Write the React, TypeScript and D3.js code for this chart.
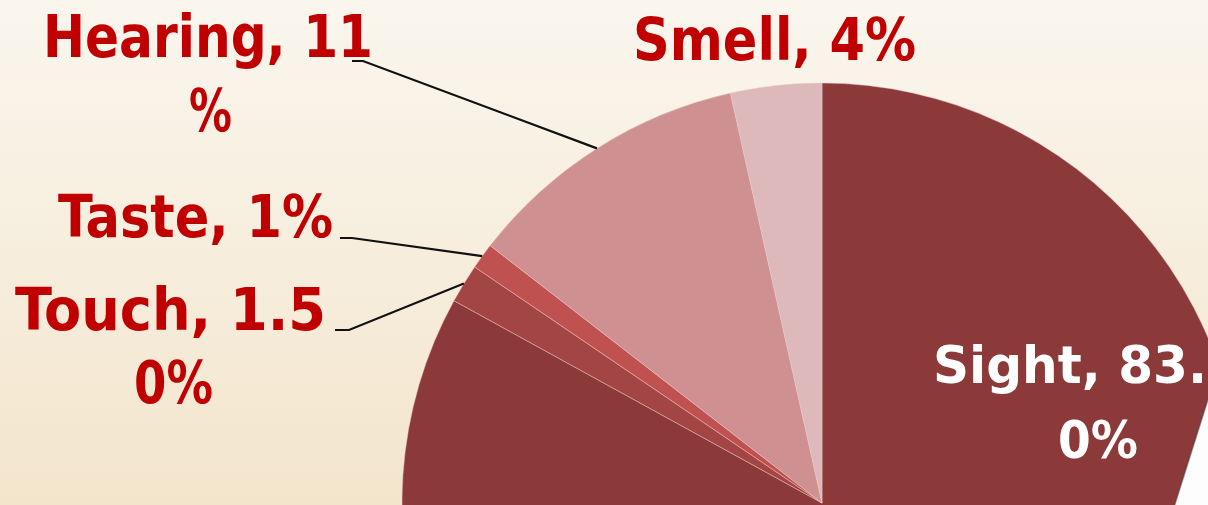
import React from 'react';
import * as d3 from 'd3';

// slice order runs clockwise from 12 o'clock
const senses = ['Sight', 'Touch', 'Taste', 'Hearing', 'Smell'];
const shares = [83, 1.5, 1, 11, 3.5];
const sliceColors = ['#8c3a39', '#a34545', '#bf5150', '#cf9091', '#ddb9bb'];
// label text as it wraps in the original
const labelLines = [
  ['Sight, 83.', '0%'],
  ['Touch, 1.5', '0%'],
  ['Taste, 1%'],
  ['Hearing, 11', '%'],
  ['Smell, 4%'],
];

const W = 1208;
const H = 505;
const cx = 822;
const cy = 503;
const R = 420;

// where each label sits (start x, baseline y, fitted width)
const labelLayout = [
  { size: 52, fill: '#ffffff', lines: [{ x: 933, y: 383, w: 274 }, { x: 1058, y: 458, w: 80 }] },
  { size: 58, fill: '#c00000', lines: [{ x: 15, y: 330, w: 311 }, { x: 134, y: 403, w: 79 }], elbow: [349, 330, 335] },
  { size: 58, fill: '#c00000', lines: [{ x: 58, y: 237, w: 275 }], elbow: [352, 238, 340] },
  { size: 58, fill: '#c00000', lines: [{ x: 43, y: 57, w: 330 }, { x: 189, y: 131, w: 43 }], elbow: [363, 61, 352] },
  { size: 58, fill: '#c00000', lines: [{ x: 633, y: 60, w: 283 }] },
];

const font = "'DejaVu Sans Condensed', 'DejaVu Sans', sans-serif";

export default function App() {
  const pie = d3.pie<number>().sort(null).value(d => d);
  const arcs = pie(shares);
  const arc = d3.arc<d3.PieArcDatum<number>>().innerRadius(0).outerRadius(R);

  const edgePoint = (a: d3.PieArcDatum<number>) => {
    const m = (a.startAngle + a.endAngle) / 2;
    return [cx + R * Math.sin(m), cy - R * Math.cos(m)];
  };

  return (
    <svg width={W} height={H} style={{ position: 'absolute', left: 0, top: 0 }}>
      <defs>
        <linearGradient id="bg" x1="0" y1="0" x2="0" y2="1">
          <stop offset="0" stopColor="#faf6ee" />
          <stop offset="1" stopColor="#f3e5cc" />
        </linearGradient>
      </defs>
      <rect width={W} height={H} fill="url(#bg)" />

      <g transform={`translate(${cx},${cy})`}>
        {arcs.map((a, i) => (
          <path key={senses[i]} d={arc(a) || ''} fill={sliceColors[i]}
            stroke="#f2c8c8" strokeOpacity={0.45} strokeWidth={1} />
        ))}
      </g>

      {arcs.map((a, i) => {
        const lay = labelLayout[i];
        if (!lay.elbow) return null;
        const [px, py] = edgePoint(a);
        const [ex, ey, hx] = lay.elbow;
        return (
          <polyline key={'l' + i} points={`${px},${py} ${ex},${ey} ${hx},${ey}`}
            fill="none" stroke="#111" strokeWidth={2.2} />
        );
      })}

      {labelLines.map((lines, i) => {
        const lay = labelLayout[i];
        return (
          <g key={'t' + i} fontFamily={font} fontWeight="bold" fontSize={lay.size} fill={lay.fill}>
            {lines.map((s, j) => (
              <text key={j} x={lay.lines[j].x} y={lay.lines[j].y}
                textLength={lay.lines[j].w} lengthAdjust="spacingAndGlyphs">{s}</text>
            ))}
          </g>
        );
      })}

      {/* white page corner cutting in at lower right */}
      <polygon points="1211,390 1260,390 1260,520 1170,520" fill="#fdfdfd"
        stroke="#444" strokeOpacity={0.5} strokeWidth={1.5} />
    </svg>
  );
}
